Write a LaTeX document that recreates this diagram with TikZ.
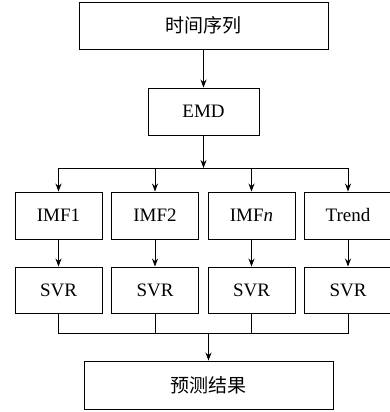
\documentclass[tikz,border=0pt]{standalone}
\usepackage{fontspec}
\setmainfont{Liberation Serif}
\newfontfamily\cjk{Noto Sans CJK SC}
\usetikzlibrary{arrows.meta}
\begin{document}
\begin{tikzpicture}[x=1pt,y=1pt,
    box/.style={draw,line width=0.9pt,inner sep=0pt,font=\fontsize{19}{22}\selectfont},
    wide/.style={box,minimum width=249pt,minimum height=47pt},
    small/.style={box,minimum width=87pt,minimum height=47pt},
    arr/.style={line width=0.9pt,-{Stealth[length=8pt,width=6pt]}},
    lin/.style={line width=0.9pt}]
    \useasboundingbox (0,0) rectangle (390,412);

    \node[wide] (series) at (203.5,386.5) {\cjk 时间序列};
    \node[box,minimum width=111pt,minimum height=47pt] (emd) at (203.5,300.5) {EMD};

    \node[small] (imf1) at (58.5,196.5) {IMF1};
    \node[small] (imf2) at (155,196.5) {IMF2};
    \node[small] (imfn) at (251.5,196.5) {IMF\textit{n}};
    \node[small] (trend) at (348,196.5) {Trend};

    \node[small,minimum height=46pt] (svr1) at (58.5,122) {SVR};
    \node[small,minimum height=46pt] (svr2) at (155,122) {SVR};
    \node[small,minimum height=46pt] (svrn) at (251.5,122) {SVR};
    \node[small,minimum height=46pt] (svrt) at (348,122) {SVR};

    \node[wide,minimum height=48pt] (result) at (208.5,27) {\cjk 预测结果};

    \coordinate (split) at (203.5,244);
    \coordinate (merge) at (208.5,78.7);

    \draw[arr] (series) -- (emd);
    \draw[arr] (emd) -- (split);
    \draw[arr] (split) -| (imf1);
    \draw[arr] (split) -| (imf2);
    \draw[arr] (split) -| (imfn);
    \draw[arr] (split) -| (trend);

    \draw[arr] (imf1) -- (svr1);
    \draw[arr] (imf2) -- (svr2);
    \draw[arr] (imfn) -- (svrn);
    \draw[arr] (trend) -- (svrt);

    \draw[lin] (svr1) |- (merge);
    \draw[lin] (svr2) |- (merge);
    \draw[lin] (svrn) |- (merge);
    \draw[lin] (svrt) |- (merge);
    \draw[arr] (merge) -- (result);
\end{tikzpicture}
\end{document}
